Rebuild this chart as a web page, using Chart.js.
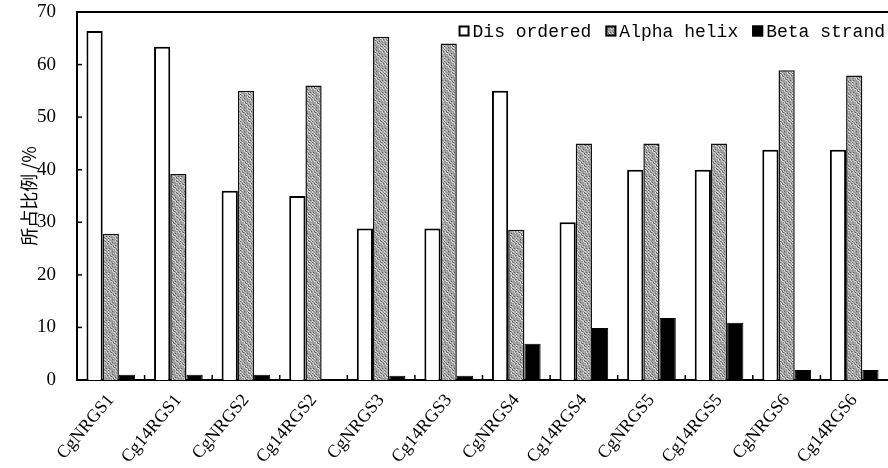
<!DOCTYPE html>
<html>
<head>
<meta charset="utf-8">
<script src="https://cdn.jsdelivr.net/npm/chart.js@4.4.1/dist/chart.umd.min.js"></script>
<style>
  html, body { margin: 0; padding: 0; background: #fff; }
  #wrap { width: 888px; height: 468px; position: relative; }
</style>
</head>
<body>
<div id="wrap"><canvas id="c" width="888" height="468"></canvas></div>
<script>
const categories = ['CgNRGS1','Cg14RGS1','CgNRGS2','Cg14RGS2','CgNRGS3','Cg14RGS3','CgNRGS4','Cg14RGS4','CgNRGS5','Cg14RGS5','CgNRGS6','Cg14RGS6'];
const disordered = [66.4, 63.4, 36, 35, 28.8, 28.8, 55, 30, 40, 40, 43.8, 43.8];
const alphaHelix = [27.8, 39.2, 55, 56, 65.3, 64, 28.6, 45, 45, 45, 58.9, 57.9];
const betaStrand = [1, 1, 1, 0, 0.8, 0.8, 6.9, 9.9, 11.8, 10.9, 1.9, 1.9];
const yTicks = [0, 10, 20, 30, 40, 50, 60, 70];
const seriesNames = ['Dis ordered', 'Alpha helix', 'Beta strand'];

// grey speckled texture (deterministic)
function makePattern() {
  const p = document.createElement('canvas');
  p.width = 12; p.height = 12;
  const g = p.getContext('2d');
  g.fillStyle = '#9a9a9a';
  g.fillRect(0, 0, 12, 12);
  for (let y = 0; y < 12; y++) {
    for (let x = 0; x < 12; x++) {
      const h = (x * 7 + y * 11 + x * y * 3) % 9;
      if (h === 0 || h === 4) { g.fillStyle = '#d8d8d8'; g.fillRect(x, y, 1, 1); }
      else if (h === 2) { g.fillStyle = '#5a5a5a'; g.fillRect(x, y, 1, 1); }
      else if (h === 7) { g.fillStyle = '#bdbdbd'; g.fillRect(x, y, 1, 1); }
    }
  }
  return g.createPattern(p, 'repeat');
}
const ctx = document.getElementById('c').getContext('2d');
const greyPattern = makePattern();

const frame = {
  id: 'frame',
  afterDatasetsDraw(chart) {
    const { ctx, chartArea } = chart;
    const ys = chart.scales.y, xs = chart.scales.x;
    ctx.save();
    ctx.strokeStyle = '#000';
    ctx.lineWidth = 2;
    ctx.beginPath();
    ctx.moveTo(chartArea.left, chartArea.top);
    ctx.lineTo(chartArea.right, chartArea.top);
    ctx.stroke();
    ctx.lineWidth = 1.5;
    yTicks.forEach(v => {
      const py = ys.getPixelForValue(v);
      ctx.beginPath();
      ctx.moveTo(chartArea.left, py);
      ctx.lineTo(chartArea.left + 5, py);
      ctx.stroke();
    });
    for (let i = 1; i < categories.length; i++) {
      const px = (xs.getPixelForValue(i - 1) + xs.getPixelForValue(i)) / 2;
      ctx.beginPath();
      ctx.moveTo(px, chartArea.bottom);
      ctx.lineTo(px, chartArea.bottom - 5);
      ctx.stroke();
    }
    // legend inside plot, top-right
    const ds = chart.data.datasets;
    ctx.font = '18px "Liberation Mono"';
    ctx.textBaseline = 'middle';
    ctx.textAlign = 'left';
    const box = 11, gapBox = 3, gapItem = 14;
    const widths = ds.map(d => ctx.measureText(d.label).width);
    let total = 0;
    widths.forEach((w, i) => { total += box + gapBox + w + (i < ds.length - 1 ? gapItem : 0); });
    let x = chartArea.right - 3 - total;
    const cy = chartArea.top + 19;
    ds.forEach((d, i) => {
      ctx.fillStyle = d.backgroundColor;
      ctx.fillRect(x, cy - box / 2, box, box);
      ctx.lineWidth = 2;
      ctx.strokeStyle = '#000';
      ctx.strokeRect(x + 1, cy - box / 2 + 1, box - 2, box - 2);
      ctx.fillStyle = '#000';
      ctx.fillText(d.label, x + box + gapBox, cy + 1);
      x += box + gapBox + widths[i] + gapItem;
    });
    ctx.restore();
  }
};

new Chart(ctx, {
  type: 'bar',
  data: {
    labels: categories,
    datasets: [
      { label: seriesNames[0], data: disordered, backgroundColor: '#ffffff', borderColor: '#000', borderWidth: 2 },
      { label: seriesNames[1], data: alphaHelix, backgroundColor: greyPattern, borderColor: '#111', borderWidth: 1.5 },
      { label: seriesNames[2], data: betaStrand, backgroundColor: '#000000', borderColor: '#000', borderWidth: 1 }
    ]
  },
  options: {
    responsive: false,
    animation: false,
    devicePixelRatio: 1,
    layout: { padding: { top: 12, right: 0, left: 0, bottom: 0 } },
    datasets: { bar: { categoryPercentage: 0.72, barPercentage: 1.0 } },
    plugins: {
      legend: { display: false },
      tooltip: { enabled: false }
    },
    scales: {
      x: {
        offset: true,
        grid: { display: false },
        border: { display: true, color: '#000', width: 2 },
        ticks: {
          maxRotation: 50, minRotation: 50,
          font: { family: 'Liberation Serif', size: 18 },
          color: '#000',
          padding: 2
        },
        afterFit(scale) { scale.height = 88; scale.paddingLeft = 0; scale.paddingRight = 0; }
      },
      y: {
        min: 0, max: 70,
        afterBuildTicks(scale) { scale.ticks = yTicks.map(v => ({ value: v })); },
        grid: { display: false },
        border: { display: true, color: '#000', width: 2 },
        ticks: {
          font: { family: 'Liberation Serif', size: 19 },
          color: '#000',
          padding: 13
        },
        title: {
          display: true,
          text: '所占比例 /%',
          font: { family: 'Noto Sans CJK SC', size: 18 },
          color: '#000',
          padding: { top: 18, bottom: 0 }
        },
        afterFit(scale) { scale.width = 77; scale.paddingTop = 0; scale.paddingBottom = 0; }
      }
    }
  },
  plugins: [frame]
});
</script>
</body>
</html>
